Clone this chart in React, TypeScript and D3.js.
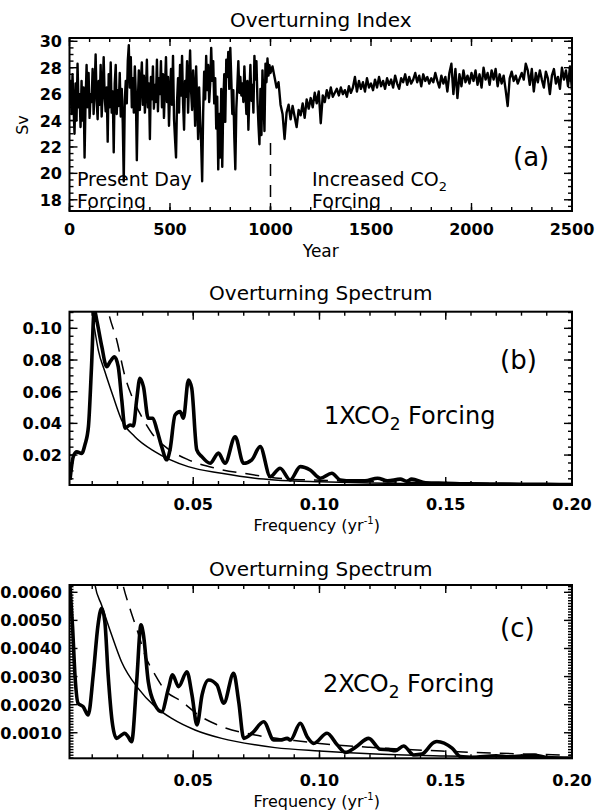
import React from "react";
import * as d3 from "d3";

// ---------- Panel (a): overturning index (Sv) ----------
// years 0..1000 every 5 years
const sviEarly = [
  26.5, 27, 24.5, 27.5, 25, 23, 26.8, 24, 28.3, 25,
  26, 23.5, 27, 24, 26.5, 21.2, 25.5, 28.2, 25, 27.6,
  24.2, 26, 25.4, 27.9, 24.5, 26.5, 29, 25.5, 24.1, 27,
  25.2, 28.2, 24.3, 26.2, 28.8, 25.8, 24.7, 26.5, 22.4, 27.5,
  25, 28.4, 24.6, 26.2, 21.6, 26.8, 28.2, 24.5, 26.3, 25.1,
  27.6, 24.3, 26.4, 23.8, 19.4, 25.5, 27, 25.3, 28.5, 29.7,
  26.5, 28.8, 25, 27.2, 24.6, 28.1, 26, 21, 25.5, 27.8,
  24.8, 26.9, 28.4, 25.2, 27.4, 24.6, 26.1, 28.6, 25, 26.8,
  22.6, 27.3, 25.6, 28.1, 24.9, 26.7, 25.4, 28.6, 24.7, 27.2,
  26, 28.5, 25, 27.5, 24.2, 26.6, 28.8, 25.4, 27.3, 23.6,
  26.1, 27.9, 25.2, 28.9, 24.1, 22.6, 21.2, 25.4, 27.2, 24.6,
  28.2, 25.9, 28.9, 25.3, 23.3, 27, 25.8, 28.5, 24.6, 27.1,
  29.3, 26.2, 24.8, 27.8, 26.4, 23.6, 28.1, 25.4, 22.6, 26.5,
  24.1, 22.3, 19.4, 24.6, 27.7, 25.6, 28.9, 26.3, 28.2, 25.4,
  26.8, 29.5, 27, 28.5, 25.3, 27.2, 23.4, 25.8, 20.3, 24.5,
  21.2, 26.4, 20.5, 25.3, 27.5, 23.9, 28.6, 27.3, 29.2, 26.4,
  29.5, 27.1, 24.5, 26.3, 22.7, 20.3, 24.9, 26.6, 28.5, 26.1,
  27.3, 25.9, 26.8, 25.4, 28.1, 26.2, 24.5, 27, 23.3, 26,
  28.2, 25.5, 26.7, 24.6, 28.9, 27.1, 28.5, 25.6, 23.7, 22.2,
  26.4, 22.9, 27.8, 25.6, 23.2, 28.3, 26.9, 28.7, 27.4, 28.2,
  27.6,
];
// years 1010..2500 every 10 years
const sviLate = [
  28.1, 27.3, 26.5, 26.9, 25.2, 24.5, 22.6, 24.6, 25.2, 24.1,
  25.1, 24.3, 23.5, 24.8, 24.4, 25.3, 24.2, 25.6, 24.9, 25.7,
  25, 26.1, 25.3, 26.2, 23.8, 25.9, 25.4, 26.3, 25.7, 26.5,
  25.8, 26.1, 26.4, 25.9, 26.5, 26, 26.3, 25.8, 26.6, 26.1,
  26.5, 27.3, 26.2, 27, 26.4, 26.9, 26.2, 27.2, 26.5, 26.8,
  26.3, 27.1, 26.5, 27.3, 26.6, 27, 26.4, 27.2, 26.7, 27.1,
  26.5, 27.4, 26.8, 26.4, 27.2, 26.9, 27.5, 26.7, 27.3, 26.8,
  27.1, 27.6, 26.9, 27.4, 26.6, 27.5, 27, 27.3, 26.8, 27.2,
  26.9, 27.6, 27, 26.5, 27.4, 26.8, 27.3, 26.2, 27.6, 28.3,
  26, 27.9, 25.7, 27.5, 26.6, 27.8, 26.9, 27.4, 26.8, 27.6,
  27, 27.8, 26.7, 27.5, 26.5, 28, 27.1, 27.6, 26.7, 27.8,
  27.1, 27.9, 26.6, 27.5, 26.8, 27.4, 26.3, 25.1, 27.2, 27.7,
  27, 27.4, 26.8, 27.2, 27.6, 27.1, 28.3, 27.8, 26.7, 27.9,
  26.2, 27.6, 26.9, 27.8, 27.1, 26.5, 27.7, 27.2, 26, 27.4,
  27.9, 26.8, 27.3, 26.4, 28, 27.1, 27.8, 26.6, 28.1, 26.3,
];
const yearTicks = [0, 500, 1000, 1500, 2000, 2500];
const svTicks = [18, 20, 22, 24, 26, 28, 30];

// ---------- Panel (b): 1xCO2 spectrum ----------
const bThickF = [0.0012, 0.0025, 0.0039, 0.0058, 0.0071, 0.0085, 0.0097, 0.0108, 0.0118, 0.0138, 0.0157, 0.0171, 0.0188, 0.0203, 0.0217, 0.023, 0.025, 0.0263, 0.0276, 0.0289, 0.0303, 0.0322, 0.034, 0.0356, 0.0375, 0.0395, 0.0408, 0.0428, 0.0448, 0.0461, 0.0481, 0.0494, 0.0514, 0.0534, 0.0567, 0.06, 0.0626, 0.0666, 0.0699, 0.0732, 0.0765, 0.0805, 0.0844, 0.0884, 0.0924, 0.0963, 0.1003, 0.1049, 0.1082, 0.113, 0.118, 0.123, 0.127, 0.132, 0.1345, 0.1365, 0.142, 0.15, 0.16, 0.17, 0.18, 0.19, 0.2];
const bThickP = [0.0043, 0.019, 0.022, 0.021, 0.0264, 0.038, 0.075, 0.112, 0.105, 0.0884, 0.0758, 0.079, 0.082, 0.0758, 0.0548, 0.037, 0.039, 0.0384, 0.0548, 0.0685, 0.063, 0.0432, 0.0432, 0.036, 0.0253, 0.017, 0.0233, 0.0453, 0.0474, 0.0432, 0.0674, 0.0622, 0.0233, 0.019, 0.0148, 0.0212, 0.0148, 0.0316, 0.0148, 0.017, 0.0253, 0.0064, 0.0117, 0.0043, 0.0127, 0.0106, 0.0054, 0.0085, 0.0043, 0.0037, 0.0037, 0.0054, 0.0037, 0.0048, 0.0035, 0.0048, 0.0025, 0.0022, 0.0018, 0.0017, 0.0016, 0.0015, 0.0014];
const bFitF = [0.0098, 0.0104, 0.0111, 0.0124, 0.015, 0.0183, 0.0216, 0.0269, 0.0348, 0.048, 0.0612, 0.0744, 0.0823, 0.1, 0.12, 0.15, 0.2];
const bFitP = [0.113, 0.105, 0.098, 0.0863, 0.0727, 0.0569, 0.0422, 0.0316, 0.0222, 0.0127, 0.0085, 0.0054, 0.0043, 0.0031, 0.0023, 0.0017, 0.0011];
const bConfF = [0.015, 0.0164, 0.0197, 0.023, 0.0263, 0.0303, 0.0336, 0.0389, 0.0481, 0.0587, 0.0719, 0.0884, 0.0963, 0.12, 0.15, 0.2];
const bConfP = [0.122, 0.1105, 0.0926, 0.0695, 0.0548, 0.0422, 0.0338, 0.0253, 0.017, 0.0117, 0.008, 0.0048, 0.0043, 0.0033, 0.0024, 0.0017];
const bYTicks = [0.02, 0.04, 0.06, 0.08, 0.1];

// ---------- Panel (c): 2xCO2 spectrum ----------
const cThickF = [0.0012, 0.0022, 0.0032, 0.0044, 0.0064, 0.0084, 0.0104, 0.0123, 0.0137, 0.015, 0.0163, 0.0179, 0.0196, 0.0216, 0.0229, 0.0242, 0.0256, 0.0276, 0.0293, 0.0302, 0.0322, 0.0349, 0.0375, 0.0402, 0.0418, 0.0442, 0.0475, 0.0495, 0.0515, 0.0535, 0.0561, 0.0594, 0.0621, 0.066, 0.068, 0.07, 0.0733, 0.0779, 0.0819, 0.0845, 0.0872, 0.0885, 0.0924, 0.0951, 0.0977, 0.103, 0.107, 0.1103, 0.1142, 0.1195, 0.1241, 0.1274, 0.13, 0.1333, 0.1373, 0.1406, 0.1452, 0.1465, 0.1525, 0.1558, 0.16, 0.17, 0.175, 0.185, 0.19, 0.2];
const cThickP = [0.0062, 0.0048, 0.003, 0.00205, 0.00193, 0.00163, 0.00306, 0.00484, 0.00543, 0.00495, 0.00306, 0.00139, 0.0008, 0.00092, 0.00098, 0.00086, 0.00068, 0.00282, 0.00484, 0.00454, 0.00282, 0.00199, 0.00175, 0.00258, 0.00306, 0.00264, 0.00317, 0.00235, 0.00128, 0.00235, 0.00288, 0.0027, 0.00205, 0.00312, 0.00211, 0.0008, 0.00098, 0.00139, 0.00074, 0.00074, 0.0008, 0.00074, 0.00134, 0.00086, 0.00062, 0.00098, 0.00057, 0.0003, 0.00048, 0.0008, 0.00041, 0.0004, 0.00036, 0.00053, 0.00021, 0.00024, 0.00065, 0.00069, 0.00045, 0.00015, 0.00012, 0.00018, 0.00014, 0.0002, 0.00012, 0.0001];
const cFitF = [0.0105, 0.0111, 0.0137, 0.0177, 0.0216, 0.0282, 0.0349, 0.0415, 0.0507, 0.0613, 0.0745, 0.0824, 0.1, 0.12, 0.15, 0.2];
const cFitP = [0.0067, 0.00626, 0.00555, 0.00448, 0.00353, 0.00258, 0.00193, 0.00151, 0.0011, 0.0008, 0.00057, 0.00047, 0.00035, 0.00025, 0.00017, 0.0001];
const cConfF = [0.0205, 0.0222, 0.0249, 0.0282, 0.0309, 0.0349, 0.0388, 0.0455, 0.0521, 0.0613, 0.0745, 0.09, 0.1, 0.12, 0.15, 0.2];
const cConfP = [0.007, 0.00626, 0.00543, 0.00454, 0.00377, 0.00306, 0.00252, 0.00211, 0.00163, 0.00122, 0.00092, 0.00072, 0.00062, 0.00048, 0.00034, 0.0002];
const cYTicks = [0.001, 0.002, 0.003, 0.004, 0.005, 0.006];
const freqTicks = [0.05, 0.1, 0.15, 0.2];

const FONT = "DejaVu Sans, sans-serif";
const BOX_L = 69.5;
const BOX_R = 572;
const CX = (BOX_L + BOX_R) / 2;

function steps(a: number, b: number, step: number): number[] {
  const out: number[] = [];
  const n = Math.round((b - a) / step);
  for (let i = 0; i <= n; i++) out.push(+(a + i * step).toFixed(8));
  return out;
}

type Series = { x: number[]; y: number[]; width: number; dash?: string; smooth?: boolean };

type PanelProps = {
  id: string;
  top: number;
  bottom: number;
  xDomain: [number, number];
  yDomain: [number, number];
  xMajor: number[];
  xMinor: number[];
  yMajor: number[];
  yMinor: number[];
  xFmt: (v: number) => string;
  yFmt: (v: number) => string;
  xTickY: number;
  title: string;
  titleY: number;
  series: Series[];
  children?: React.ReactNode;
};

function Panel(p: PanelProps) {
  const x = d3.scaleLinear().domain(p.xDomain).range([BOX_L, BOX_R]);
  const y = d3.scaleLinear().domain(p.yDomain).range([p.bottom, p.top]);
  const clipId = `clip-${p.id}`;
  const inX = (v: number) => v >= p.xDomain[0] - 1e-9 && v <= p.xDomain[1] + 1e-9;
  const inY = (v: number) => v >= p.yDomain[0] - 1e-9 && v <= p.yDomain[1] + 1e-9;
  const MAJ = 8;
  const MIN = 4;
  const tickLines: React.ReactNode[] = [];
  const addX = (v: number, len: number, k: string) => {
    const xx = x(v);
    tickLines.push(<line key={`xb${k}`} x1={xx} x2={xx} y1={p.bottom} y2={p.bottom - len} />);
    tickLines.push(<line key={`xt${k}`} x1={xx} x2={xx} y1={p.top} y2={p.top + len} />);
  };
  const addY = (v: number, len: number, k: string) => {
    const yy = y(v);
    tickLines.push(<line key={`yl${k}`} x1={BOX_L} x2={BOX_L + len} y1={yy} y2={yy} />);
    tickLines.push(<line key={`yr${k}`} x1={BOX_R} x2={BOX_R - len} y1={yy} y2={yy} />);
  };
  p.xMinor.filter(inX).forEach((v, i) => addX(v, MIN, `m${i}`));
  p.xMajor.filter(inX).forEach((v, i) => addX(v, MAJ, `M${i}`));
  p.yMinor.filter(inY).forEach((v, i) => addY(v, MIN, `m${i}`));
  p.yMajor.filter(inY).forEach((v, i) => addY(v, MAJ, `M${i}`));

  return (
    <g>
      <defs>
        <clipPath id={clipId}>
          <rect x={BOX_L} y={p.top} width={BOX_R - BOX_L} height={p.bottom - p.top} />
        </clipPath>
      </defs>
      <text x={CX} y={p.titleY} textAnchor="middle" fontFamily={FONT} fontSize={20}>
        {p.title}
      </text>
      <g clipPath={`url(#${clipId})`}>
        {p.series.map((s, i) => {
          const line = d3
            .line<number>()
            .x((_, j) => x(s.x[j]))
            .y((d) => y(d))
            .curve(s.smooth ? d3.curveMonotoneX : d3.curveLinear);
          return (
            <path
              key={i}
              d={line(s.y) || ""}
              fill="none"
              stroke="#000"
              strokeWidth={s.width}
              strokeDasharray={s.dash}
              strokeLinejoin="round"
            />
          );
        })}
      </g>
      <g stroke="#000" strokeWidth={1.4}>{tickLines}</g>
      <rect x={BOX_L} y={p.top} width={BOX_R - BOX_L} height={p.bottom - p.top} fill="none" stroke="#000" strokeWidth={2} />
      <g fontFamily={FONT} fontSize={16} fontWeight="bold" fill="#000">
        {p.xMajor.filter(inX).map((v, i) => (
          <text key={`xl${i}`} x={x(v)} y={p.xTickY} textAnchor="middle">
            {p.xFmt(v)}
          </text>
        ))}
        {p.yMajor.filter(inY).map((v, i) => (
          <text key={`yl${i}`} x={62} y={y(v) + 6} textAnchor="end">
            {p.yFmt(v)}
          </text>
        ))}
      </g>
      {p.children}
    </g>
  );
}

function FreqLabel({ y }: { y: number }) {
  return (
    <text x={CX - 4} y={y} textAnchor="middle" fontFamily={FONT} fontSize={16}>
      Frequency (yr
      <tspan fontSize={10} dy={-7}>-1</tspan>
      <tspan dy={7}>)</tspan>
    </text>
  );
}

export default function App() {
  const years = [
    ...sviEarly.map((_, i) => i * 5),
    ...sviLate.map((_, i) => 1010 + i * 10),
  ];
  const svi = [...sviEarly, ...sviLate];
  const xA = d3.scaleLinear().domain([0, 2500]).range([BOX_L, BOX_R]);
  const yA = d3.scaleLinear().domain([17.15, 30.25]).range([211, 38]);
  const freqMinor = steps(0.01, 0.2, 0.01);

  return (
    <svg
      width={605}
      height={811}
      viewBox="0 0 605 811"
      style={{ position: "absolute", left: 0, top: 0, background: "#fff" }}
    >
      <rect x={0} y={0} width={605} height={811} fill="#fff" />

      {/* Panel (a) */}
      <Panel
        id="a"
        top={38}
        bottom={211}
        xDomain={[0, 2500]}
        yDomain={[17.15, 30.25]}
        xMajor={yearTicks}
        xMinor={steps(0, 2500, 100)}
        yMajor={svTicks}
        yMinor={steps(17.5, 30, 0.5)}
        xFmt={(v) => String(v)}
        yFmt={(v) => String(v)}
        xTickY={235}
        title="Overturning Index"
        titleY={27}
        series={[{ x: years, y: svi, width: 2.4 }]}
      >
        <line x1={xA(1000)} x2={xA(1000)} y1={yA(22.3)} y2={211} stroke="#000" strokeWidth={1.5} strokeDasharray="12,9" />
        <g fontFamily={FONT} fontSize={19} fill="#000">
          <text x={77} y={186}>Present Day</text>
          <text x={77} y={208}>Forcing</text>
          <text x={312} y={186}>
            Increased CO<tspan fontSize={13} dy={5}>2</tspan>
          </text>
          <text x={312} y={208}>Forcing</text>
        </g>
        <text x={513} y={166} fontFamily={FONT} fontSize={26}>(a)</text>
        <text x={CX} y={257} textAnchor="middle" fontFamily={FONT} fontSize={17}>Year</text>
        <text transform="translate(28,125) rotate(-90)" textAnchor="middle" fontFamily={FONT} fontSize={16}>Sv</text>
      </Panel>

      {/* Panel (b) */}
      <Panel
        id="b"
        top={311.7}
        bottom={485}
        xDomain={[0.001, 0.2]}
        yDomain={[0.0011, 0.1105]}
        xMajor={freqTicks}
        xMinor={freqMinor}
        yMajor={bYTicks}
        yMinor={steps(0.005, 0.11, 0.005)}
        xFmt={(v) => v.toFixed(2)}
        yFmt={(v) => v.toFixed(2)}
        xTickY={510}
        title="Overturning Spectrum"
        titleY={300}
        series={[
          { x: bFitF, y: bFitP, width: 1.5, smooth: true },
          { x: bConfF, y: bConfP, width: 1.5, dash: "14,9", smooth: true },
          { x: bThickF, y: bThickP, width: 3.6, smooth: true },
        ]}
      >
        <text x={500} y={369} fontFamily={FONT} fontSize={26}>(b)</text>
        <text x={324} y={424} fontFamily={FONT} fontSize={24}>
          1XCO<tspan fontSize={17} dy={6}>2</tspan>
          <tspan dy={-6}> Forcing</tspan>
        </text>
        <FreqLabel y={531} />
      </Panel>

      {/* Panel (c) */}
      <Panel
        id="c"
        top={585}
        bottom={758.3}
        xDomain={[0.001, 0.2]}
        yDomain={[0.00009, 0.00626]}
        xMajor={freqTicks}
        xMinor={freqMinor}
        yMajor={cYTicks}
        yMinor={steps(0.0001, 0.0062, 0.0001)}
        xFmt={(v) => v.toFixed(2)}
        yFmt={(v) => v.toFixed(4)}
        xTickY={786}
        title="Overturning Spectrum"
        titleY={576}
        series={[
          { x: cFitF, y: cFitP, width: 1.5, smooth: true },
          { x: cConfF, y: cConfP, width: 1.5, dash: "14,9", smooth: true },
          { x: cThickF, y: cThickP, width: 3.6, smooth: true },
        ]}
      >
        <text x={500} y={637} fontFamily={FONT} fontSize={26}>(c)</text>
        <text x={323} y={692} fontFamily={FONT} fontSize={24}>
          2XCO<tspan fontSize={17} dy={6}>2</tspan>
          <tspan dy={-6}> Forcing</tspan>
        </text>
        <FreqLabel y={807} />
      </Panel>
    </svg>
  );
}
